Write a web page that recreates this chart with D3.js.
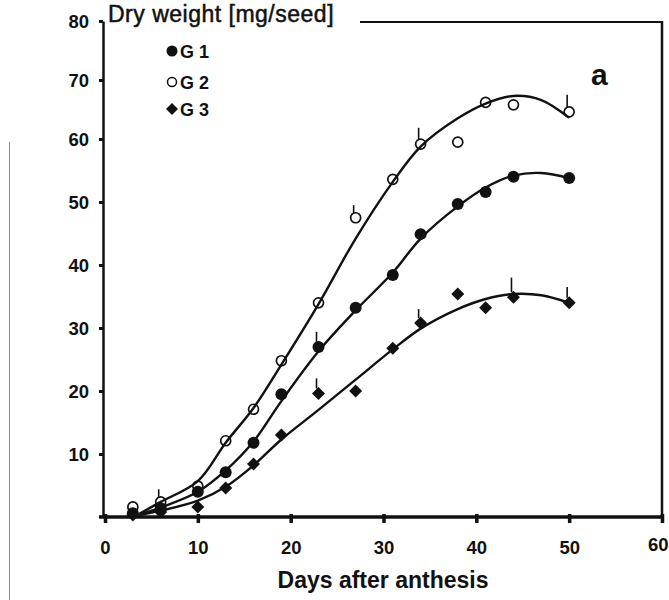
<!DOCTYPE html>
<html><head><meta charset="utf-8">
<script src="https://cdn.jsdelivr.net/npm/d3@7"></script>
<style>
html,body{margin:0;padding:0;background:#fff;}
svg{display:block;font-family:"Liberation Sans",Arial,sans-serif;}
</style></head>
<body>
<svg id="chart" width="669" height="600"></svg>
<script>
// ---- data ----
const days = [3, 6, 10, 13, 16, 19, 23, 27, 31, 34, 38, 41, 44, 50];
const g1 = [0.6, 1.4, 4.0, 7.1, 11.8, 19.5, 27.0, 33.2, 38.4, 44.9, 49.7, 51.6, 54.0, 53.8];
const g2 = [1.6, 2.4, 4.9, 12.1, 17.1, 24.8, 34.0, 47.5, 53.6, 59.2, 59.5, 66.2, 65.8, 64.6];
const g3 = [0.3, 0.8, 1.6, 4.6, 8.4, 13.0, 19.6, 20.0, 26.8, 30.8, 35.4, 33.2, 34.9, 34.0];

const fitDays = [3.7, 6, 10, 13, 16, 19, 23, 27, 31, 34, 38, 41, 44, 47, 50];
const g1Fit = [0.4, 1.5, 4.0, 7.4, 12.0, 18.4, 26.3, 32.8, 38.8, 44.2, 49.3, 52.3, 54.2, 54.6, 53.8];
const g2Fit = [0.5, 2.4, 5.7, 11.8, 17.3, 24.2, 33.8, 44.2, 53.2, 58.8, 63.5, 66.0, 67.3, 66.6, 63.6];
const g3Fit = [0.3, 1.0, 2.6, 4.8, 8.2, 12.3, 17.0, 21.8, 26.6, 29.9, 33.0, 34.6, 35.4, 35.2, 34.0];

const g1ErrDays = [23];
const g1ErrTop = [29.4];
const g2ErrDays = [6, 27, 34, 50];
const g2ErrTop = [4.4, 49.5, 61.9, 67.5];
const g3ErrDays = [23, 34, 44, 50];
const g3ErrTop = [22.0, 33.0, 38.0, 36.5];

const xTicks = [0, 10, 20, 30, 40, 50, 60];
const yTicks = [10, 20, 30, 40, 50, 60, 70, 80];
const seriesNames = ["G 1", "G 2", "G 3"];

// ---- drawing ----
const svg = d3.select("#chart");
const ink = "#111";
const x = d3.scaleLinear().domain([0, 60]).range([105, 662]);
const y = d3.scaleLinear().domain([0, 60, 80]).range([517, 139, 21]);

// scan artifact line at far left
svg.append("line").attr("x1", 9.5).attr("x2", 9.5).attr("y1", 142).attr("y2", 600)
  .attr("stroke", "#888").attr("stroke-width", 1);

// frame: top and right
svg.append("line").attr("x1", 360).attr("x2", x(60)).attr("y1", y(80) + 1).attr("y2", y(80) + 1)
  .attr("stroke", ink).attr("stroke-width", 2);
svg.append("line").attr("x1", x(60)).attr("x2", x(60)).attr("y1", y(80)).attr("y2", y(0))
  .attr("stroke", ink).attr("stroke-width", 2.5);

// y axis
const yAxis = d3.axisLeft(y).tickValues(yTicks).tickSize(4).tickPadding(10).tickSizeOuter(0);
const gy = svg.append("g").attr("transform", "translate(103,0)").call(yAxis);
gy.select(".domain").attr("stroke", ink).attr("stroke-width", 2.5);
gy.selectAll(".tick line").attr("stroke", ink).attr("stroke-width", 3);
gy.selectAll(".tick text").attr("fill", ink).attr("font-size", 18.5).attr("font-weight", "bold")
  .attr("font-family", "Liberation Sans, Arial, sans-serif").attr("dy", "0.36em");

// x axis
const xAxis = d3.axisBottom(x).tickValues(xTicks).tickSize(6).tickPadding(18).tickSizeOuter(0);
const gx = svg.append("g").attr("transform", `translate(0,${y(0)})`).call(xAxis);
gx.select(".domain").attr("stroke", ink).attr("stroke-width", 3.5)
  .attr("d", `M${x(0) - 6},0H${x(60) + 2}`);
gx.selectAll(".tick line").attr("stroke", ink).attr("stroke-width", 3.5).attr("y1", -3);
gx.selectAll(".tick text").attr("fill", ink).attr("font-size", 18.5).attr("font-weight", "bold")
  .attr("font-family", "Liberation Sans, Arial, sans-serif");
gx.selectAll(".tick text").filter(d => d === 60).attr("text-anchor", "end").attr("x", 6).attr("dy", "0.55em");

// axis titles
svg.append("text").attr("x", 108).attr("y", 22).attr("fill", ink).attr("stroke", ink).attr("stroke-width", 0.5)
  .attr("font-size", 23).attr("letter-spacing", 0.5).text("Dry weight [mg/seed]");
svg.append("text").attr("x", 383).attr("y", 588).attr("text-anchor", "middle").attr("fill", ink)
  .attr("font-size", 23).attr("font-weight", "bold").text("Days after anthesis");
svg.append("text").attr("x", 591).attr("y", 85).attr("fill", ink)
  .attr("font-size", 30).attr("font-weight", "bold").text("a");

// fitted curves
const line = d3.line().x(d => x(d[0])).y(d => y(d[1])).curve(d3.curveCatmullRom.alpha(0.5));
[g1Fit, g2Fit, g3Fit].forEach(fit => {
  svg.append("path").datum(fitDays.map((d, i) => [d, fit[i]]))
    .attr("d", line).attr("fill", "none").attr("stroke", ink).attr("stroke-width", 2.4);
});

// error strokes
function errs(ds, tops, vals, off) {
  ds.forEach((d, i) => {
    const v = vals[days.indexOf(d)];
    svg.append("line").attr("x1", x(d) - 2).attr("x2", x(d) - 2)
      .attr("y1", y(v) - off).attr("y2", y(tops[i]))
      .attr("stroke", ink).attr("stroke-width", 1.6);
  });
}
errs(g1ErrDays, g1ErrTop, g1, 5);
errs(g2ErrDays, g2ErrTop, g2, 4);
errs(g3ErrDays, g3ErrTop, g3, 5);

// markers
function diamond(cx, cy, r) {
  return `M${cx},${cy - r}L${cx + r},${cy}L${cx},${cy + r}L${cx - r},${cy}Z`;
}
svg.append("g").selectAll("path").data(days.map((d, i) => [d, g3[i]])).join("path")
  .attr("d", d => diamond(x(d[0]), y(d[1]), 6.5)).attr("fill", ink);
svg.append("g").selectAll("circle").data(days.map((d, i) => [d, g1[i]])).join("circle")
  .attr("cx", d => x(d[0])).attr("cy", d => y(d[1])).attr("r", 6).attr("fill", ink);
svg.append("g").selectAll("circle").data(days.map((d, i) => [d, g2[i]])).join("circle")
  .attr("cx", d => x(d[0])).attr("cy", d => y(d[1])).attr("r", 5)
  .attr("fill", "none").attr("stroke", ink).attr("stroke-width", 1.7);

// legend
const lg = svg.append("g");
const legY = [51, 82, 109];
lg.append("circle").attr("cx", 172).attr("cy", legY[0]).attr("r", 5.5).attr("fill", ink);
lg.append("circle").attr("cx", 172).attr("cy", legY[1]).attr("r", 4.5).attr("fill", "none")
  .attr("stroke", ink).attr("stroke-width", 1.5);
lg.append("path").attr("d", diamond(172, legY[2], 6)).attr("fill", ink);
seriesNames.forEach((s, i) => {
  lg.append("text").attr("x", 180).attr("y", legY[i] + 6.5).attr("fill", ink)
    .attr("font-size", 18).attr("font-weight", "bold").text(s);
});
</script>
</body></html>
